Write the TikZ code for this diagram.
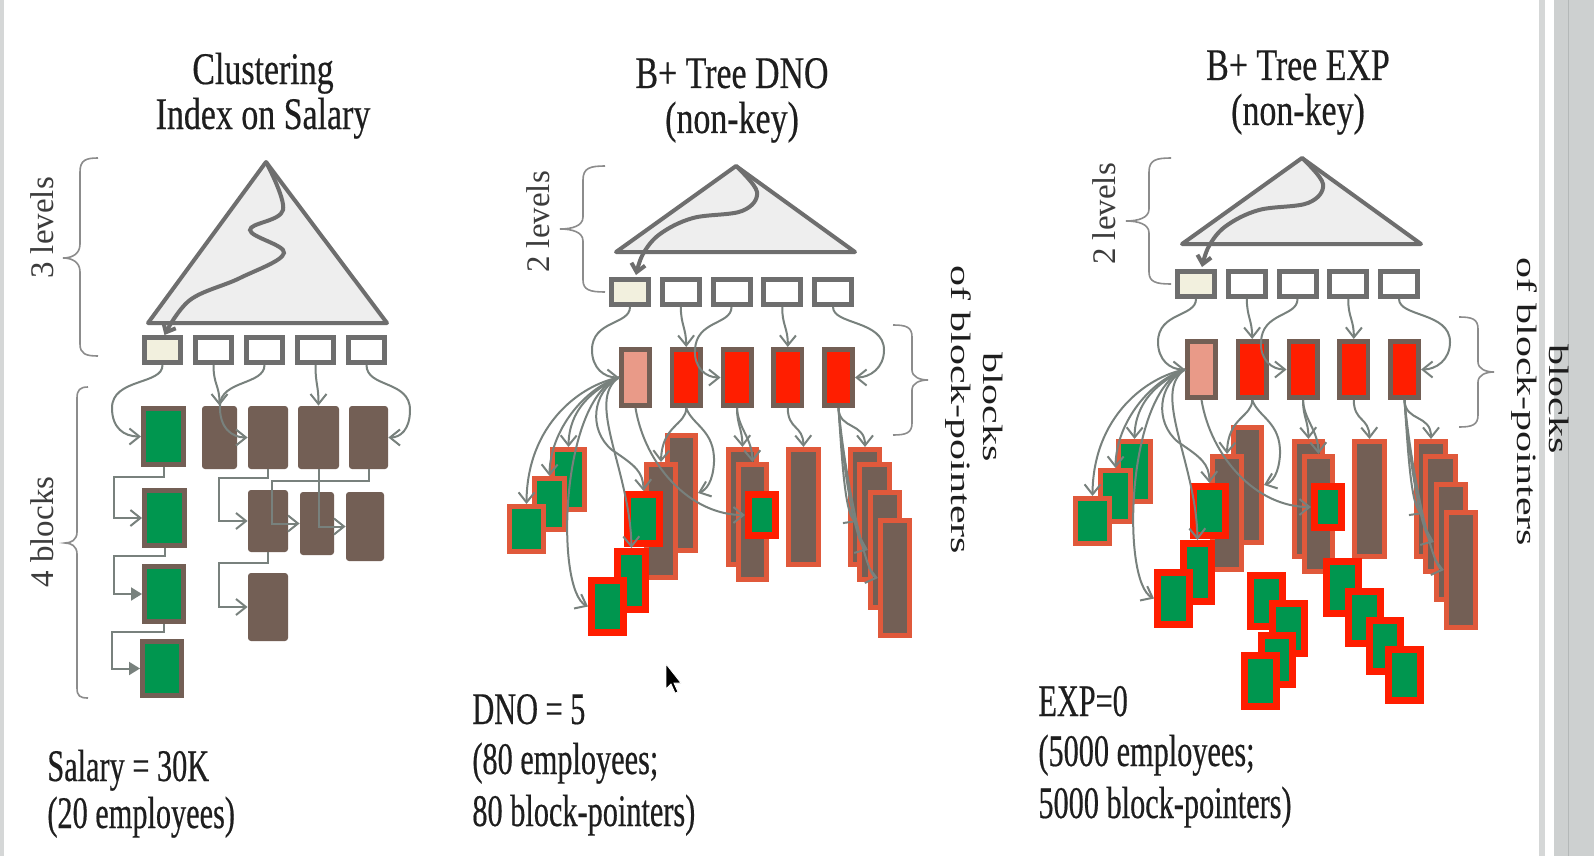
\documentclass[tikz,border=0pt]{standalone}
\usepackage{fontspec}
\setmainfont{Liberation Serif}
\newfontfamily\headfont[FakeStretch=0.75,FakeBold=0.4]{Liberation Serif}
\newfontfamily\notefont[FakeStretch=0.67,FakeBold=0.4]{Liberation Serif}
\newfontfamily\wideserif[FakeStretch=1.5]{Liberation Serif}
\usetikzlibrary{arrows.meta}
\definecolor{treeline}{HTML}{6E6E6E}
\definecolor{treefill}{HTML}{EEEEEE}
\definecolor{cream}{HTML}{F2F0DE}
\definecolor{recgreen}{HTML}{00964F}
\definecolor{blockbrown}{HTML}{735F55}
\definecolor{ptrorange}{HTML}{E0593B}
\definecolor{ptrred}{HTML}{FF1E00}
\definecolor{ptrpink}{HTML}{E99A88}
\definecolor{wire}{HTML}{78817D}
\definecolor{bracegray}{HTML}{8C8C8C}
\definecolor{labelgray}{HTML}{3C3C3C}
\definecolor{ink}{HTML}{1E1E1E}
\definecolor{barlight}{HTML}{D5D7D7}
\definecolor{bardark}{HTML}{CDD0D0}
\definecolor{barline}{HTML}{B4B8B8}
\begin{document}
\begin{tikzpicture}[x=0.5pt,y=-0.5pt,
		sz/.style 2 args={minimum width=#1*0.5pt,minimum height=#2*0.5pt},
		tree/.style={draw=treeline,fill=treefill,line width=2pt,line join=round},
		descend/.style={draw=treeline,line width=2pt,-{Straight Barb[length=4pt,width=7pt]}},
		leaf/.style={draw=treeline,line width=2.5pt,inner sep=0pt,sz={36}{25}},
		recbox/.style={fill=recgreen,draw=blockbrown,line width=2.5pt,inner sep=0pt},
		brownbox/.style={fill=blockbrown,rounded corners=1.5pt,inner sep=0pt},
		ptrblk/.style={draw=blockbrown,line width=2.3pt,inner sep=0pt,sz={28.4}{56.4}},
		datblk/.style={fill=blockbrown,draw=ptrorange,line width=2.5pt,inner sep=0pt},
		recblk/.style={fill=recgreen,draw=ptrorange,line width=2.5pt,inner sep=0pt},
		hitblk/.style={fill=recgreen,draw=ptrred,line width=3.5pt,inner sep=0pt},
		ptr/.style={draw=wire,line width=1pt,-{Straight Barb[length=5pt,width=8pt]}},
		ptrfill/.style={draw=wire,line width=1pt,-{Triangle[length=5.5pt,width=6.5pt]}},
		brace/.style={draw=bracegray,line width=0.8pt},
		lvl/.style={font=\fontsize{16.5}{20}\selectfont,text=labelgray,inner sep=0pt},
		bptr/.style={font=\wideserif\fontsize{14}{17}\selectfont,text=ink,inner sep=0pt},
		head/.style={font=\headfont\fontsize{22.6}{27}\selectfont,text=ink,inner sep=0pt,anchor=base},
		note/.style={font=\notefont\fontsize{22.6}{27}\selectfont,text=ink,inner sep=0pt,anchor=base west}]
	\useasboundingbox (0,0) rectangle (1594,856);
	\fill[white] (0,0) rectangle (1594,856);
	% window edges
	\fill[barlight] (0,0) rectangle (4,856);
	\fill[barlight] (1539,0) rectangle (1545,856);
	\fill[bardark] (1554,0) rectangle (1594,856);
	\draw[barline] (1568,0) -- (1568,856);

	% clustering index on salary
	\node[head] (hd1) at (263,84) {Clustering};
	\node[head] (hd2) at (263,129) {Index on Salary};
	\coordinate (apex1) at (266,162);
	\draw[tree] (apex1) -- (148,323) -- (387,323) -- cycle;
	\foreach \i/\c in {1/cream,2/white,3/white,4/white,5/white}
		\node[leaf,fill=\c] (ci\i) at ({162.5+51*(\i-1)},350) {};
	\draw[descend] plot[smooth,tension=0.6] coordinates {(apex1) (283,210) (250,230) (284,253) (240,278) (190,300) ([xshift=1pt]ci1.north)};

	\node[recbox,sz={40}{56}] (rec1) at (163.5,436.5) {};
	\node[brownbox,sz={35}{63}] (blk2) at (219.5,437.5) {};
	\node[brownbox,sz={40}{63}] (blk3) at (268,437.5) {};
	\node[brownbox,sz={41}{63}] (blk4) at (318.5,437.5) {};
	\node[brownbox,sz={39}{63}] (blk5) at (368.5,437.5) {};
	\node[recbox,sz={40}{55}] (rec2) at (164.5,518) {};
	\node[brownbox,sz={40}{62}] (blk6) at (268,521) {};
	\node[brownbox,sz={34}{63}] (blk7) at (317,523.5) {};
	\node[brownbox,sz={38}{69}] (blk8) at (365,526.5) {};
	\node[recbox,sz={39}{55}] (rec3) at (164,594) {};
	\node[brownbox,sz={40}{68}] (blk9) at (268,607) {};
	\node[recbox,sz={39}{54}] (rec4) at (162,668.5) {};

	\draw[ptr] (ci1.south) .. controls (163,385) and (112,378) .. (112,408)
		.. controls (112,428) and (124,436.5) .. (rec1.west);
	\draw[ptr] (ci2.south) .. controls (213.5,385) and (219.5,385) .. (blk2.north);
	\draw[ptr] (ci3.south) .. controls (264.5,385) and (221,380) .. (220,405)
		.. controls (219,428) and (232,437.5) .. (blk3.west);
	\draw[ptr] (ci4.south) .. controls (315.5,385) and (318.5,385) .. (blk4.north);
	\draw[ptr] (ci5.south) .. controls (366.5,388) and (410,380) .. (410,410)
		.. controls (410,430) and (400,437.5) .. (blk5.east);
	\draw[ptr] (rec1.south) -- ++(0,10) -- ++(-50,0) |- (rec2.west);
	\draw[ptrfill] (rec2.south) -- ++(0,8) -- ++(-51,0) |- (rec3.west);
	\draw[ptrfill] (rec3.south) -- ++(0,8) -- ++(-52,0) |- (rec4.west);
	\draw[ptr] (blk3.south) -- ++(0,9) -- ++(-49,0) |- (blk6.west);
	\draw[ptr] (blk6.south) -- ++(0,11) -- ++(-49,0) |- (blk9.west);
	\draw[ptr] (blk5.south) -- ++(0,12) -- ++(-97,0) |- (blk7.west);
	\draw[ptr] (blk4.south) |- (blk8.west);

	\draw[brace] (98,158) .. controls (86,158) and (80,160) .. (80,172) -- (80,244)
		.. controls (80,254) and (72,258) .. (63,258) .. controls (72,258) and (80,262) .. (80,272)
		-- (80,344) .. controls (80,354) and (86,356) .. (98,356);
	\draw[brace] (88,387) .. controls (80,387) and (77,390) .. (77,398) -- (77,532)
		.. controls (77,540) and (71,543) .. (65,543) .. controls (71,543) and (77,546) .. (77,554)
		-- (77,688) .. controls (77,696) and (80,698) .. (88,698);
	\node[lvl,rotate=90] (lv1) at (42,228) {3 levels};
	\node[lvl,rotate=90] (lv2) at (42,532) {4 blocks};
	\node[note] (q1) at (47,781) {Salary = 30K};
	\node[note] (q2) at (47,828) {(20 employees)};

	% B+ trees on DNO and EXP
	\foreach \dx/\dy/\key/\val/\emp in {0/0/DNO/{DNO = 5}/80,566/-8/EXP/{EXP=0}/5000}{
	\begin{scope}[shift={(\dx,\dy)},name prefix=\key-]
		\node[head] (hd1) at (732,88) {B+ Tree \key};
		\node[head] (hd2) at (732,133) {(non-key)};
		\coordinate (apex) at (736,166);
		\draw[tree] (apex) -- (616,252) -- (855,252) -- cycle;
		\foreach \i/\c in {1/cream,2/white,3/white,4/white,5/white}
			\node[leaf,fill=\c,sz={37}{25}] (lf\i) at ({630+50.75*(\i-1)},292) {};
		\draw[descend] plot[smooth,tension=0.6] coordinates {(apex) (757,192) (742,211) (693,218) (660,234) (643,254) ([xshift=3pt,yshift=1pt]lf1.north)};
		\foreach \i/\c in {1/ptrpink,2/ptrred,3/ptrred,4/ptrred,5/ptrred}
			\node[ptrblk,fill=\c] (pb\i) at ({635.5+50.75*(\i-1)},377.5) {};

		\node[recblk,sz={32}{60}] (r1) at (568.5,479.5) {};
		\node[recblk,sz={30}{51}] (r2) at (549.5,504) {};
		\node[recblk,sz={34}{45}] (r3) at (526.5,529) {};
		\node[datblk,sz={28}{115}] (d1) at (681.5,493) {};
		\node[datblk,sz={29}{113}] (d2) at (661,521) {};
		\node[hitblk,sz={32}{49}] (h1) at (643.5,519) {};
		\node[hitblk,sz={28}{58}] (h2) at (631.5,580.5) {};
		\node[hitblk,sz={32}{52}] (h3) at (607.5,606.5) {};
		\node[datblk,sz={28}{115}] (d3) at (742.5,507) {};
		\node[datblk,sz={28}{115}] (d4) at (752.5,522) {};
		\node[hitblk,sz={27}{41}] (h4) at (762,515) {};
		\node[datblk,sz={30}{115}] (d5) at (803.5,507) {};
		\node[datblk,sz={29}{115}] (d6) at (865,507) {};
		\node[datblk,sz={30}{115}] (d7) at (874.5,522) {};
		\node[datblk,sz={29}{115}] (d8) at (885,550) {};
		\node[datblk,sz={29}{115}] (d9) at (895,578) {};

		\draw[ptr] (lf1.south) .. controls (630,325) and (592,320) .. (592,350)
			.. controls (592,368) and (604,377.5) .. (pb1.west);
		\draw[ptr] (lf2.south) .. controls (681,325) and (686,328) .. (pb2.north);
		\draw[ptr] (lf3.south) .. controls (731.5,325) and (696,320) .. (695,350)
			.. controls (694,368) and (706,377.5) .. (pb3.west);
		\draw[ptr] (lf4.south) .. controls (782,325) and (788,328) .. (pb4.north);
		\draw[ptr] (lf5.south) .. controls (833,325) and (884,320) .. (884,350)
			.. controls (884,368) and (870,377.5) .. (pb5.east);

		\draw[ptr] (pb1.west) .. controls (580,385) and (527,425) .. (r3.north);
		\draw[ptr] (pb1.west) .. controls (585,388) and (550,430) .. (r2.north);
		\draw[ptr] (pb1.west) .. controls (592,390) and (569,410) .. (r1.north);
		\draw[ptr] (pb1.west) .. controls (560,400) and (555,590) .. (h3.west);
		\draw[ptr] (pb1.west) .. controls (592,392) and (588,430) .. (612,450)
			.. controls (636,466) and (643,472) .. (h1.north);
		\draw[ptr] (pb1.west) .. controls (585,400) and (630,470) .. (h2.north);
		\draw[ptr] (pb1.south) .. controls (645,465) and (690,515) .. (h4.west);
		\draw[ptr] (pb2.south) .. controls (686,425) and (662,425) .. (d2.north);
		\draw[ptr] (pb2.south) .. controls (692,425) and (715,430) .. (714,462)
			.. controls (713,482) and (706,490) .. (d1.east);
		\draw[ptr] (pb3.south) .. controls (737,425) and (742,428) .. (d3.north);
		\draw[ptr] (pb3.south) .. controls (738,428) and (752,438) .. (d4.north);
		\draw[ptr] (pb4.south) .. controls (788,430) and (803,425) .. (d5.north);
		\draw[ptr] (pb5.south) .. controls (839,430) and (865,422) .. (d6.north);
		\draw[ptr] (pb5.south) .. controls (842,460) and (845,515) .. (d7.west);
		\draw[ptr] (pb5.south) .. controls (843,470) and (856,545) .. (d8.west);
		\draw[ptr] (pb5.south) .. controls (845,480) and (866,575) .. (d9.west);

		\draw[brace] (605,166) .. controls (590,166) and (583,168) .. (583,180) -- (583,217)
			.. controls (583,226) and (572,229) .. (560,229) .. controls (572,229) and (583,232) .. (583,241)
			-- (583,280) .. controls (583,290) and (590,292) .. (605,292);
		\draw[brace] (893,325) .. controls (906,325) and (912,327) .. (912,337) -- (912,370)
			.. controls (912,377) and (920,380) .. (928,380) .. controls (920,380) and (912,383) .. (912,390)
			-- (912,423) .. controls (912,433) and (906,435) .. (893,435);
		\node[lvl,rotate=90] (lv) at (538,222) {2 levels};
		\node[bptr,rotate=-90] (bp2) at (958,410) {of block-pointers};
		\node[bptr,rotate=-90] (bp1) at (993,407) {blocks};
		\node[note] (q1) at (472,724) {\val};
		\node[note] (q2) at (472,774) {(\emp{} employees;};
		\node[note] (q3) at (472,826) {\emp{} block-pointers)};
	\end{scope}
	}

	% further matches for EXP=0
	\node[hitblk,sz={32}{51}] (e1) at (1266.5,601) {};
	\node[hitblk,sz={32}{50}] (e2) at (1288.5,628.5) {};
	\node[hitblk,sz={31}{49}] (e3) at (1277,660) {};
	\node[hitblk,sz={32}{51}] (e4) at (1260.5,681) {};
	\node[hitblk,sz={32}{52}] (f1) at (1342.5,587.5) {};
	\node[hitblk,sz={32}{52}] (f2) at (1364.5,617.5) {};
	\node[hitblk,sz={31}{51}] (f3) at (1385,646) {};
	\node[hitblk,sz={32}{51}] (f4) at (1404.5,675) {};

	% mouse pointer
	\filldraw[fill=black,draw=white,line width=0.4pt] (666,664) -- (666,689) -- (671,684)
		-- (675,693) -- (678,692) -- (674,683) -- (681,683) -- cycle;
\end{tikzpicture}
\end{document}
